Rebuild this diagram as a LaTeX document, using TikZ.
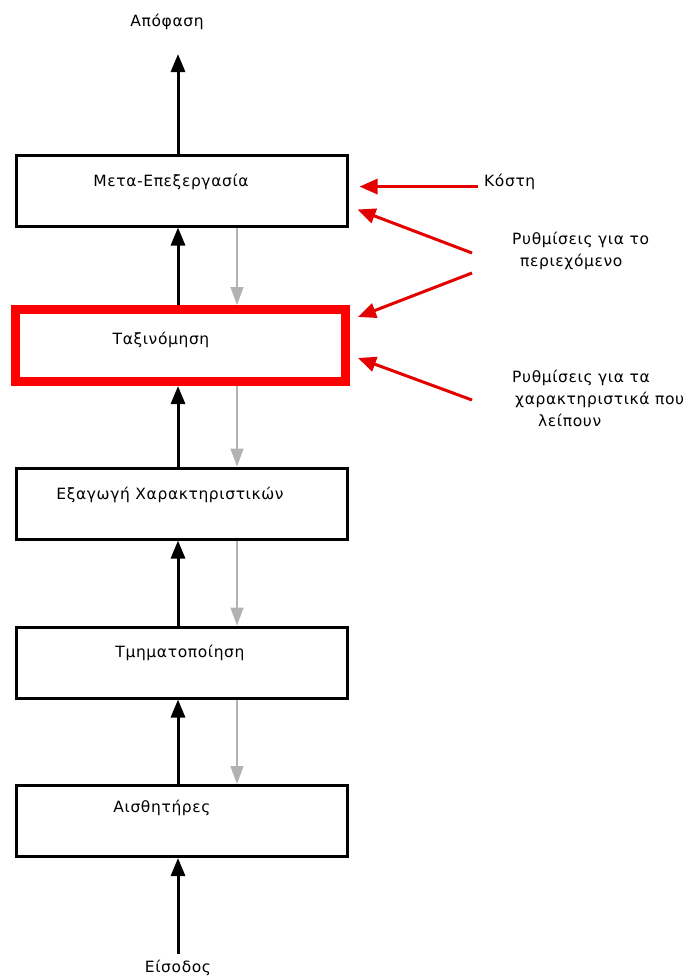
\documentclass[tikz,border=0pt]{standalone}
\usepackage{fontspec}
\setmainfont{DejaVu Sans}[LetterSpace=4]
\usepackage{tikz}
\usetikzlibrary{positioning, calc, arrows.meta}

\tikzset{
  stage/.style={draw, line width=3pt, minimum width=331pt, minimum height=71pt, inner sep=0pt},
  hotstage/.style={draw=red, line width=9pt, minimum width=330pt, minimum height=72pt, inner sep=0pt},
  txt/.style={font=\fontsize{15.5}{22}\selectfont, inner sep=0pt},
  fwd/.style={line width=3pt, -{Triangle[width=14pt,length=18pt]}},
  bwd/.style={line width=1.5pt, black!30, -{Triangle[width=13pt,length=18pt]}},
  ctl/.style={line width=3pt, red!90!black, -{Triangle[width=15pt,length=18pt]}}
}

\begin{document}
\begin{tikzpicture}[x=1pt, y=-1pt]
  \useasboundingbox (0,0) rectangle (696,979);

  % the five stages
  \node[stage] (post) at (181.5, 190.5) {};
  \node[hotstage] (classif) at (180.5, 345.5) {};
  \node[stage] (feat) at (181.5, 503.5) {};
  \node[stage] (seg) at (181.5, 662.5) {};
  \node[stage] (sens) at (181.5, 821) {};

  \node[txt] (post-t) at (171, 182) {Μετα-Επεξεργασία};
  \node[txt] (classif-t) at (161, 340) {Ταξινόμηση};
  \node[txt] (feat-t) at (170, 495) {Εξαγωγή Χαρακτηριστικών};
  \node[txt] (seg-t) at (180, 653) {Τμηματοποίηση};
  \node[txt] (sens-t) at (162, 808) {Αισθητήρες};

  \node[txt] (decision) at (167, 22) {Απόφαση};
  \node[txt] (input) at (178, 968) {Είσοδος};

  % side inputs
  \node[txt, anchor=west] (cost) at (484, 182) {Κόστη};
  \node[txt, anchor=north west, align=left] (ctx) at (512, 232)
    {Ρυθμίσεις για το\\\hspace*{8pt}περιεχόμενο};
  \node[txt, anchor=north west, align=left] (missing) at (512, 370)
    {Ρυθμίσεις για τα\\\hspace*{3pt}χαρακτηριστικά που\\\hspace*{26pt}λείπουν};

  \coordinate (spine) at (178, 0);
  \coordinate (back) at (237, 0);
  \coordinate (ctx-a) at (472, 253);
  \coordinate (ctx-b) at (472, 273);
  \coordinate (miss-a) at (472, 400);

  % upward flow
  \draw[fwd, shorten >=24pt] (post.north -| spine) -- (decision.south -| spine);
  \draw[fwd] (classif.north -| spine) -- (post.south -| spine);
  \draw[fwd] (feat.north -| spine) -- (classif.south -| spine);
  \draw[fwd] (seg.north -| spine) -- (feat.south -| spine);
  \draw[fwd] (sens.north -| spine) -- (seg.south -| spine);
  \draw[fwd, shorten <=6pt] (input.north -| spine) -- (sens.south -| spine);

  % feedback
  \draw[bwd] (post.south -| back) -- (classif.north -| back);
  \draw[bwd] (classif.south -| back) -- (feat.north -| back);
  \draw[bwd] (feat.south -| back) -- (seg.north -| back);
  \draw[bwd] (seg.south -| back) -- (sens.north -| back);

  % control arrows
  \draw[ctl, shorten <=6pt, shorten >=11pt] (cost.base west) -- (post.east |- cost.base);
  \draw[ctl] (ctx-a) -- ($(post.south east)+(9,-18)$);
  \draw[ctl] (ctx-b) -- ($(classif.north east)+(8,12)$);
  \draw[ctl] (miss-a) -- ($(classif.south east)+(8,-28)$);
\end{tikzpicture}
\end{document}
